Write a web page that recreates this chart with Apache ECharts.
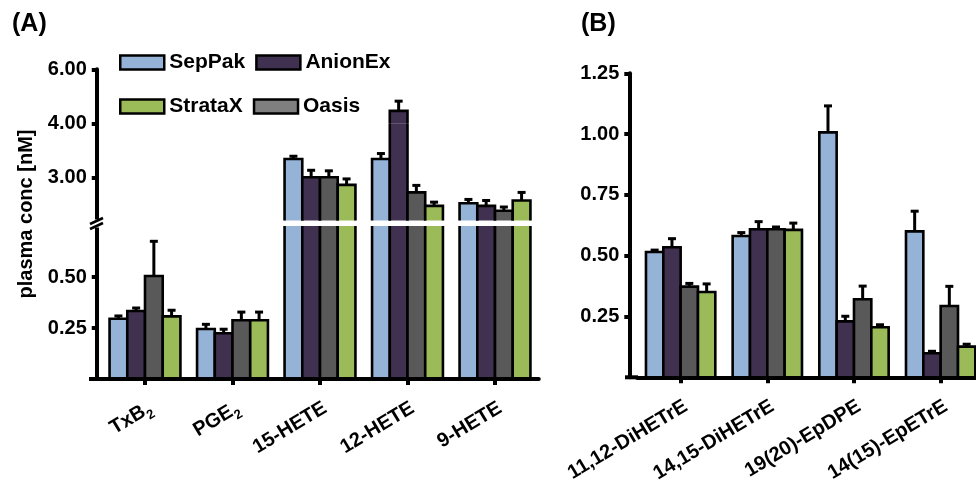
<!DOCTYPE html>
<html><head><meta charset="utf-8">
<script src="https://cdn.jsdelivr.net/npm/echarts@6/dist/echarts.min.js"></script>
<style>html,body{margin:0;padding:0;background:#fff}#c{width:976px;height:486px}</style>
</head><body><div id="c"></div>
<script>
// ---------- data ----------
const methods = ['SepPak', 'AnionEx', 'Oasis', 'StrataX'];
const legendRow1 = ['SepPak', 'AnionEx'];
const legendRow2 = ['StrataX', 'Oasis'];

const catsA = ['TxB2', 'PGE2', '15-HETE', '12-HETE', '9-HETE'];
const sepPakA  = [0.295, 0.245, 3.34, 3.34, 2.52];
const sepPakAErr  = [0.014, 0.023, 0.05, 0.10, 0.07];
const anionExA = [0.333, 0.224, 3.00, 4.46, 2.47];
const anionExAErr = [0.015, 0.020, 0.13, 0.36, 0.10];
const oasisA   = [0.505, 0.288, 3.00, 2.72, 2.38];
const oasisAErr   = [0.170, 0.040, 0.12, 0.13, 0.07];
const strataXA = [0.307, 0.288, 2.86, 2.47, 2.57];
const strataXAErr = [0.030, 0.040, 0.11, 0.07, 0.15];

const catsB = ['11,12-DiHETrE', '14,15-DiHETrE', '19(20)-EpDPE', '14(15)-EpETrE'];
const sepPakB  = [0.515, 0.581, 1.007, 0.600];
const sepPakBErr  = [0.008, 0.014, 0.109, 0.083];
const anionExB = [0.535, 0.609, 0.230, 0.099];
const anionExBErr = [0.035, 0.031, 0.021, 0.008];
const oasisB   = [0.373, 0.609, 0.321, 0.293];
const oasisBErr   = [0.013, 0.009, 0.054, 0.081];
const strataXB = [0.351, 0.606, 0.206, 0.126];
const strataXBErr = [0.033, 0.028, 0.010, 0.010];

// axis segments (panel A has a broken axis)
const ticksATop = [6];
const ticksAMid = [3, 4];
const ticksALow = [0.25, 0.5];
const ticksB = [0.25, 0.5, 0.75, 1.0, 1.25];

// ---------- styles ----------
const FONT = "'Liberation Sans', Arial, Helvetica, sans-serif";
const colors = { SepPak: '#95b3d7', AnionEx: '#403151', Oasis: '#595959', StrataX: '#9bbb59' };
const legendColors = { SepPak: '#95b3d7', AnionEx: '#403151', Oasis: '#7f7f7f', StrataX: '#9bbb59' };

const seriesA = { SepPak: [sepPakA, sepPakAErr], AnionEx: [anionExA, anionExAErr], Oasis: [oasisA, oasisAErr], StrataX: [strataXA, strataXAErr] };
const seriesB = { SepPak: [sepPakB, sepPakBErr], AnionEx: [anionExB, anionExBErr], Oasis: [oasisB, oasisBErr], StrataX: [strataXB, strataXBErr] };

function barRenderer(k, frac, color) {
  return function (params, api) {
    const cs = params.coordSys;
    const cat = api.value(0), val = api.value(1), err = api.value(2);
    const band = api.size([1, 0])[0];
    const gw = band * frac, bw = gw / methods.length;
    const cx = api.coord([cat, 0])[0];
    const x0 = cx - gw / 2 + k * bw, x1 = x0 + bw, xm = (x0 + x1) / 2;
    const yBase = api.coord([cat, 0])[1];
    const yTop = api.coord([cat, val])[1];
    const yErr = api.coord([cat, val + err])[1];
    const gTop = cs.y, gBot = cs.y + cs.height;
    const top = Math.max(yTop, gTop), bot = Math.min(yBase, gBot);
    if (top >= bot) return null;
    const ls = { stroke: '#000', lineWidth: 2.6, fill: 'none' };
    const ch = [{ type: 'rect', shape: { x: x0, y: top, width: bw, height: bot - top }, style: { fill: color } }];
    if (yTop >= gTop - 0.01) {
      const ye = Math.max(yErr, gTop);
      ch.push({ type: 'line', shape: { x1: xm, y1: yTop, x2: xm, y2: ye }, style: { stroke: '#000', lineWidth: 3 } });
      if (yErr >= gTop) ch.push({ type: 'line', shape: { x1: xm - 4, y1: yErr, x2: xm + 4, y2: yErr }, style: { stroke: '#000', lineWidth: 3 } });
      ch.push({ type: 'polyline', shape: { points: [[x0, bot], [x0, yTop], [x1, yTop], [x1, bot]] }, style: ls });
    } else {
      ch.push({ type: 'line', shape: { x1: x0, y1: bot, x2: x0, y2: top }, style: ls });
      ch.push({ type: 'line', shape: { x1: x1, y1: bot, x2: x1, y2: top }, style: ls });
    }
    return { type: 'group', children: ch };
  };
}

function yAxis(gridIndex, min, max, ticks, offset) {
  return {
    type: 'value', gridIndex, min, max, offset, z: 10,
    splitLine: { show: false },
    axisLine: { show: true, lineStyle: { color: '#000', width: 4 } },
    axisTick: { show: true, length: 5, customValues: ticks, lineStyle: { color: '#000', width: 4 } },
    axisLabel: { show: ticks.length > 0, customValues: ticks, margin: 10, formatter: v => v.toFixed(2),
      color: '#000', fontSize: 20, fontWeight: 'bold', fontFamily: FONT }
  };
}
function xAxisVisible(gridIndex, cats) {
  return {
    type: 'category', gridIndex, data: cats, z: 10,
    axisLine: { show: true, lineStyle: { color: '#000', width: 4 } },
    axisTick: { show: true, alignWithLabel: true, interval: 0, length: 6, lineStyle: { color: '#000', width: 4 } },
    axisLabel: {
      interval: 0, rotate: 31, margin: 19, align: 'right', verticalAlign: 'top',
      formatter: function (v) {
        const m = v.match(/^(TxB|PGE)2$/);
        return m ? '{b|' + m[1] + '}{s|2}' : '{b|' + v + '}';
      },
      rich: {
        b: { fontSize: 20, fontWeight: 'bold', fontFamily: FONT, color: '#000', lineHeight: 24, verticalAlign: 'top' },
        s: { fontSize: 13, fontWeight: 'bold', fontFamily: FONT, color: '#000', lineHeight: 13, verticalAlign: 'bottom' }
      }
    }
  };
}
function xAxisHidden(gridIndex, cats) {
  return { type: 'category', gridIndex, data: cats, show: false };
}

const AL = 101.25, AW = 437.5;
const grids = [
  { left: AL, width: AW, top: 69.3, height: 54, outerBoundsMode: 'none' },      // A top: 4 - 6
  { left: AL, width: AW, top: 123.3, height: 97.2, outerBoundsMode: 'none' },   // A mid: 2.2 - 4
  { left: AL, width: AW, top: 226, height: 153, outerBoundsMode: 'none' },      // A low: 0 - 0.75
  { left: 637.3, width: 346.7, top: 73.3, height: 304, outerBoundsMode: 'none' } // B
];

const series = [];
[0, 1, 2].forEach(g => {
  methods.forEach((m, k) => {
    const [vals, errs] = seriesA[m];
    series.push({ type: 'custom', name: m, xAxisIndex: g, yAxisIndex: g, itemStyle: { color: colors[m] },
      renderItem: barRenderer(k, 0.81, colors[m]), data: vals.map((v, i) => [i, v, errs[i]]) });
  });
});
methods.forEach((m, k) => {
  const [vals, errs] = seriesB[m];
  series.push({ type: 'custom', name: m, xAxisIndex: 3, yAxisIndex: 3, itemStyle: { color: colors[m] },
    renderItem: barRenderer(k, 0.80, colors[m]), data: vals.map((v, i) => [i, v, errs[i]]) });
});

function legend(top, names) {
  return {
    left: 119, top, padding: 0, itemGap: 10, itemWidth: 44, itemHeight: 14, icon: 'rect', selectedMode: false,
    itemStyle: { borderColor: '#000', borderWidth: 2.5 },
    textStyle: { fontSize: 21, fontWeight: 'bold', fontFamily: FONT, color: '#000' },
    data: names.map(n => ({ name: n, itemStyle: { color: legendColors[n], borderColor: '#000', borderWidth: 2.5 } }))
  };
}

const chart = echarts.init(document.getElementById('c'), null, { renderer: 'canvas' });
chart.setOption({
  animation: false,
  backgroundColor: '#fff',
  title: [
    { text: '(A)', left: 12, top: 12, padding: 0, textStyle: { fontSize: 25, fontWeight: 'bold', fontFamily: FONT, color: '#000' } },
    { text: '(B)', left: 581, top: 12, padding: 0, textStyle: { fontSize: 25, fontWeight: 'bold', fontFamily: FONT, color: '#000' } }
  ],
  legend: [legend(52, legendRow1), legend(96, legendRow2)],
  grid: grids,
  xAxis: [xAxisHidden(0, catsA), xAxisHidden(1, catsA), xAxisVisible(2, catsA), xAxisVisible(3, catsB)],
  yAxis: [
    yAxis(0, 4, 6, ticksATop, 4.5),
    yAxis(1, 2.2, 4, ticksAMid, 4.5),
    yAxis(2, 0, 0.75, ticksALow, 4.5),
    yAxis(3, 0, 1.25, ticksB, 8)
  ],
  graphic: [
    { type: 'text', x: 26, y: 214, rotation: Math.PI / 2, z: 20,
      style: { text: 'plasma conc [nM]', font: 'bold 20px ' + FONT, fill: '#000', align: 'center', verticalAlign: 'middle' } },
    // axis break marks
    { type: 'rect', shape: { x: 92, y: 219.5, width: 10, height: 8 }, style: { fill: '#fff' }, z: 20 },
    { type: 'line', shape: { x1: 90, y1: 224, x2: 103, y2: 218 }, style: { stroke: '#000', lineWidth: 2.5 }, z: 21 },
    { type: 'line', shape: { x1: 90, y1: 229, x2: 103, y2: 223 }, style: { stroke: '#000', lineWidth: 2.5 }, z: 21 },
    // x-axis line extensions left of the y axes
    { type: 'line', shape: { x1: 89, y1: 379, x2: 102, y2: 379 }, style: { stroke: '#000', lineWidth: 4 }, z: 20 },
    { type: 'line', shape: { x1: 625, y1: 377.3, x2: 638, y2: 377.3 }, style: { stroke: '#000', lineWidth: 4 }, z: 20 }
  ],
  series
});
</script></body></html>
